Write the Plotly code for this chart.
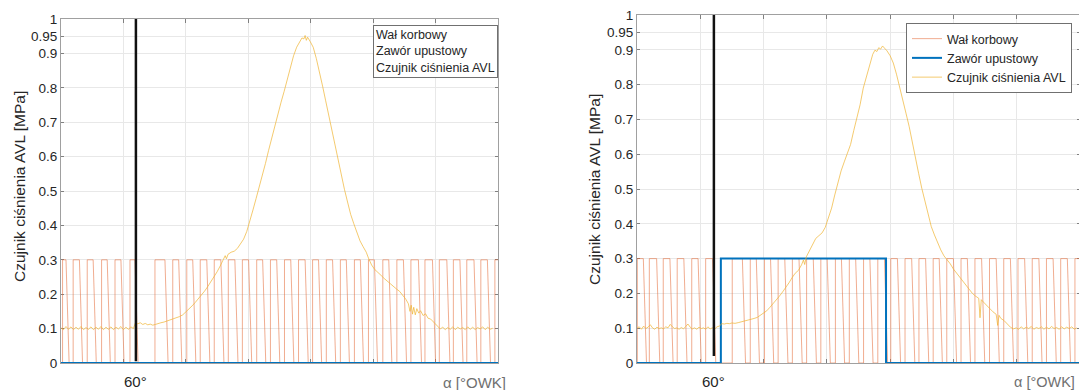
import plotly.graph_objects as go

# ---------------- data ----------------
# crank-shaft pulse train (start / end of each 0.3 MPa-level pulse), x in plot units
crank_level = 0.3
left_pulse_start = [0.5, 3.9, 8.4, 13.0, 17.3, 22.1, 30.1, 35.8, 40.3, 44.6, 49.1, 53.6, 58.1, 62.7, 67.1, 71.6,
                    76.1, 80.6, 85.0, 89.5, 94.0, 98.5, 103.1, 107.6, 112.1, 116.6, 121.2, 125.7, 130.0, 134.5, 139.0]
left_pulse_end = [1.6, 5.9, 10.3, 14.8, 19.2, 23.7, 33.3, 37.7, 42.2, 46.7, 51.2, 55.7, 60.1, 64.6, 69.1, 73.6,
                  78.2, 82.5, 87.0, 91.4, 95.9, 100.4, 105.0, 109.7, 114.5, 119.0, 123.6, 127.8, 132.3, 136.6, 140.0]
right_pulse_start = [0.1, 3.9, 8.3, 12.7, 17.3, 21.7, 30.1, 35.8, 40.3, 44.6, 49.1, 53.6, 58.1, 62.7, 67.1, 71.6,
                     76.1, 80.2, 84.7, 89.1, 93.6, 97.9, 102.4, 106.8, 111.4, 115.9, 120.4, 124.9, 129.4, 133.9, 138.4]
right_pulse_end = [2.0, 6.2, 10.4, 14.8, 19.3, 23.9, 33.3, 37.7, 42.2, 46.7, 51.2, 55.7, 60.1, 64.6, 69.1, 73.6,
                   78.2, 82.3, 86.8, 91.2, 95.5, 100.0, 104.4, 108.9, 113.5, 118.0, 122.5, 127.0, 131.5, 136.0, 140.0]

# relief valve (Zawór upustowy)
left_valve_x = [0, 140]
left_valve_y = [0, 0]
right_valve_x = [0, 26.5, 26.5, 78.7, 78.7, 140]
right_valve_y = [0, 0, 0.3, 0.3, 0, 0]

# 60° marker
left_marker_x = [24.0, 24.0]
left_marker_y = [0.005, 1.0]
right_marker_x = [24.3, 24.3]
right_marker_y = [0.02, 1.0]

# AVL pressure sensor (MPa)
left_p_x = [0.0, 0.8, 1.6, 2.4, 3.2, 4.0, 4.8, 5.6, 6.4, 7.2, 8.0, 8.8, 9.6, 10.4, 11.2, 12.0, 12.8, 13.6, 14.4,
            15.2, 16.0, 16.8, 17.6, 18.4, 19.2, 20.0, 20.8, 21.6, 22.4, 23.2, 23.8, 24.6, 25.4, 26.2, 27.0, 27.8,
            28.6, 29.4, 30.2, 31.0, 32.0, 33.0, 34.0, 35.0, 36.0, 37.0, 38.0, 39.0, 40.0, 41.0, 42.0, 43.0, 44.0,
            45.0, 46.0, 47.0, 48.0, 49.0, 50.0, 51.0, 52.0, 52.6, 53.0, 53.5, 54.5, 55.5, 56.5, 57.5, 58.5, 59.5,
            60.5, 61.5, 62.5, 63.5, 64.5, 65.5, 66.5, 67.5, 68.5, 69.5, 70.5, 71.5, 72.5, 73.5, 74.5, 75.5, 76.5,
            77.2, 77.8, 78.2, 78.6, 79.0, 79.8, 80.8, 81.8, 82.8, 83.8, 84.8, 85.8, 86.8, 87.8, 88.8, 89.8, 90.8,
            91.8, 92.8, 93.8, 94.8, 95.8, 96.8, 97.8, 98.5, 99.5, 100.5, 101.5, 102.5, 103.5, 104.5, 105.5, 106.5,
            107.5, 108.5, 109.5, 110.5, 111.3, 111.8, 112.2, 112.6, 113.0, 113.5, 114.0, 114.6, 115.2, 116.0,
            116.8, 117.6, 118.4, 119.2, 120.0, 120.8, 121.5, 122.3, 123.1, 123.9, 124.7, 125.5, 126.3, 127.1,
            127.9, 128.7, 129.5, 130.3, 131.1, 131.9, 132.7, 133.5, 134.3, 135.1, 135.9, 136.7, 137.5, 138.3,
            139.1, 140.0]
left_p_y = [0.102, 0.097, 0.106, 0.098, 0.105, 0.097, 0.104, 0.098, 0.106, 0.097, 0.103, 0.098, 0.105, 0.097,
            0.104, 0.098, 0.106, 0.097, 0.104, 0.098, 0.105, 0.097, 0.104, 0.099, 0.106, 0.097, 0.104, 0.098,
            0.105, 0.100, 0.116, 0.114, 0.117, 0.112, 0.115, 0.111, 0.113, 0.110, 0.112, 0.115, 0.117, 0.119,
            0.122, 0.125, 0.128, 0.131, 0.135, 0.140, 0.148, 0.157, 0.166, 0.176, 0.186, 0.197, 0.209, 0.222,
            0.236, 0.249, 0.265, 0.282, 0.300, 0.312, 0.303, 0.316, 0.322, 0.325, 0.333, 0.345, 0.360, 0.382,
            0.410, 0.445, 0.478, 0.510, 0.545, 0.580, 0.618, 0.655, 0.690, 0.722, 0.758, 0.790, 0.826, 0.860,
            0.893, 0.918, 0.935, 0.945, 0.942, 0.952, 0.938, 0.947, 0.935, 0.918, 0.885, 0.848, 0.805, 0.762,
            0.718, 0.675, 0.628, 0.585, 0.543, 0.505, 0.468, 0.432, 0.405, 0.378, 0.355, 0.338, 0.322, 0.305,
            0.285, 0.272, 0.262, 0.255, 0.246, 0.238, 0.229, 0.221, 0.215, 0.208, 0.198, 0.185, 0.172, 0.150,
            0.168, 0.142, 0.162, 0.140, 0.158, 0.145, 0.152, 0.138, 0.143, 0.130, 0.128, 0.120, 0.112, 0.104,
            0.099, 0.104, 0.097, 0.103, 0.098, 0.105, 0.097, 0.104, 0.099, 0.103, 0.097, 0.105, 0.098, 0.104,
            0.097, 0.103, 0.099, 0.105, 0.097, 0.104, 0.098, 0.101]

right_p_x = [0.0, 0.7, 1.4, 2.1, 2.8, 3.5, 4.2, 4.9, 5.6, 6.3, 7.0, 7.7, 8.4, 9.1, 9.8, 10.5, 11.2, 11.9, 12.6,
             13.3, 14.0, 14.7, 15.4, 16.1, 16.8, 17.5, 18.2, 18.9, 19.6, 20.3, 21.0, 21.7, 22.4, 23.1, 23.8, 24.6,
             25.3, 26.0, 26.8, 27.6, 28.4, 29.2, 30.0, 31.0, 32.0, 33.0, 34.0, 35.0, 36.0, 37.0, 38.0, 39.0, 40.0,
             41.0, 42.0, 43.0, 44.0, 45.0, 46.0, 47.0, 48.0, 49.0, 50.0, 51.0, 52.0, 52.6, 53.0, 53.5, 54.5, 55.5,
             56.5, 57.5, 58.5, 59.5, 60.5, 61.5, 62.5, 63.5, 64.5, 65.5, 66.5, 67.5, 68.5, 69.5, 70.5, 71.5, 72.5,
             73.5, 74.5, 75.2, 75.8, 76.4, 77.0, 77.6, 78.2, 79.0, 80.0, 81.0, 82.0, 83.0, 84.0, 85.0, 86.0, 87.0,
             88.0, 89.0, 90.0, 91.0, 92.0, 93.0, 94.0, 95.0, 96.0, 97.0, 98.0, 99.0, 100.0, 101.0, 102.0, 103.0,
             104.0, 105.0, 106.0, 107.0, 108.0, 108.4, 108.8, 109.5, 110.5, 111.5, 112.5, 113.5, 114.0, 114.4,
             115.0, 116.0, 117.0, 118.0, 119.0, 119.8, 120.6, 121.4, 122.2, 123.0, 123.8, 124.6, 125.4, 126.2,
             127.0, 127.8, 128.6, 129.4, 130.2, 131.0, 131.8, 132.6, 133.4, 134.2, 135.0, 135.8, 136.6, 137.4,
             138.2, 139.0, 140.0]
right_p_y = [0.100, 0.104, 0.097, 0.106, 0.099, 0.103, 0.110, 0.101, 0.097, 0.103, 0.099, 0.101, 0.098, 0.104,
             0.101, 0.111, 0.104, 0.099, 0.101, 0.097, 0.102, 0.098, 0.105, 0.112, 0.103, 0.098, 0.101, 0.097,
             0.103, 0.099, 0.101, 0.097, 0.104, 0.098, 0.101, 0.098, 0.104, 0.106, 0.113, 0.112, 0.114, 0.113,
             0.115, 0.114, 0.116, 0.118, 0.120, 0.122, 0.125, 0.128, 0.131, 0.137, 0.144, 0.150, 0.160, 0.170,
             0.181, 0.192, 0.204, 0.216, 0.230, 0.245, 0.258, 0.266, 0.282, 0.296, 0.283, 0.305, 0.323, 0.342,
             0.358, 0.366, 0.374, 0.390, 0.415, 0.445, 0.483, 0.520, 0.552, 0.578, 0.603, 0.628, 0.668, 0.706,
             0.742, 0.790, 0.822, 0.855, 0.887, 0.899, 0.895, 0.906, 0.902, 0.911, 0.905, 0.897, 0.883, 0.862,
             0.830, 0.790, 0.752, 0.718, 0.680, 0.632, 0.588, 0.545, 0.502, 0.465, 0.428, 0.392, 0.368, 0.345,
             0.325, 0.308, 0.298, 0.285, 0.270, 0.258, 0.245, 0.235, 0.222, 0.212, 0.200, 0.192, 0.186, 0.130,
             0.182, 0.175, 0.165, 0.155, 0.147, 0.140, 0.108, 0.137, 0.128, 0.122, 0.112, 0.103, 0.098, 0.101,
             0.097, 0.104, 0.098, 0.103, 0.099, 0.105, 0.097, 0.102, 0.099, 0.104, 0.097, 0.103, 0.098, 0.105,
             0.099, 0.102, 0.097, 0.104, 0.098, 0.103, 0.099, 0.104, 0.097, 0.101]

y_tick_vals = [0, 0.1, 0.2, 0.3, 0.4, 0.5, 0.6, 0.7, 0.8, 0.9, 0.95, 1]
y_tick_text = ["0", "0.1", "0.2", "0.3", "0.4", "0.5", "0.6", "0.7", "0.8", "0.9", "0.95", "1"]
x_tick_vals = [0, 20, 40, 60, 80, 100, 120, 140]

series_names = ["Wał korbowy", "Zawór upustowy", "Czujnik ciśnienia AVL"]
y_title = "Czujnik ciśnienia AVL [MPa]"
x_title = "α [°OWK]"
marker_label = "60°"

# ---------------- styling ----------------
C_CRANK = "rgba(228,105,55,0.55)"
C_VALVE = "#0072BD"
C_PRESS = "rgba(240,180,50,0.7)"
C_MARK = "#111111"
FONT = "Liberation Sans, Arial, sans-serif"
FALL = 1.0  # visual width of the falling edge

# page body has an 8 px margin: lay out in screen pixels, then shift
OFF = 8
W, H = 1087 - OFF, 390 - OFF


def px(v):
    return (v - OFF) / W


def py(v):
    return 1 - (v - OFF) / H


def crank_xy(starts, ends):
    xs, ys = [0.0], [0.0]
    for s, e in zip(starts, ends):
        xs += [s, s, e, min(e + FALL, 140.0)]
        ys += [0.0, crank_level, crank_level, 0.0 if e + FALL <= 140 else crank_level]
    return xs, ys


fig = go.Figure()

panels = [
    ("x", "y", left_pulse_start, left_pulse_end, left_valve_x, left_valve_y, left_p_x, left_p_y,
     left_marker_x, left_marker_y, False),
    ("x2", "y2", right_pulse_start, right_pulse_end, right_valve_x, right_valve_y, right_p_x, right_p_y,
     right_marker_x, right_marker_y, True),
]

for xa, ya, ps, pe, vx, vy, pxs, pys, mx, my, show in panels:
    cx, cy = crank_xy(ps, pe)
    fig.add_trace(go.Scatter(x=cx, y=cy, mode="lines", name=series_names[0], xaxis=xa, yaxis=ya,
                             line=dict(color=C_CRANK, width=1), showlegend=show, hoverinfo="skip"))
    fig.add_trace(go.Scatter(x=vx, y=vy, mode="lines", name=series_names[1], xaxis=xa, yaxis=ya,
                             line=dict(color=C_VALVE, width=2), showlegend=show))
    fig.add_trace(go.Scatter(x=pxs, y=pys, mode="lines", name=series_names[2], xaxis=xa, yaxis=ya,
                             line=dict(color=C_PRESS, width=1), showlegend=show))
    fig.add_trace(go.Scatter(x=mx, y=my, mode="lines", xaxis=xa, yaxis=ya,
                             line=dict(color=C_MARK, width=2.5), showlegend=False))

axis_common = dict(showline=True, linecolor="#a0a0a0", linewidth=1, mirror="ticks", ticks="inside",
                   ticklen=4, tickcolor="#808080", showgrid=True, gridcolor="#e8e8e8", gridwidth=1,
                   zeroline=False, layer="below traces", automargin=False)

xaxis = dict(axis_common, range=[0, 140], tickvals=x_tick_vals, showticklabels=False)
yaxis = dict(axis_common, range=[0, 1], tickvals=y_tick_vals, ticktext=y_tick_text, ticklen=3,
             ticklabeloverflow="allow",
             tickfont=dict(family=FONT, size=13.5, color="#262626"))

fig.update_layout(
    width=W, height=H,
    margin=dict(l=0, r=0, t=0, b=0, pad=0, autoexpand=False),
    paper_bgcolor="white", plot_bgcolor="white",
    font=dict(family=FONT, color="#262626"),
    xaxis=dict(xaxis, domain=[px(61), px(498)], anchor="y"),
    yaxis=dict(yaxis, domain=[py(363), py(19)], anchor="x"),
    xaxis2=dict(xaxis, domain=[px(637), px(1080)], anchor="y2"),
    yaxis2=dict(yaxis, domain=[py(363), py(15)], anchor="x2"),
    legend=dict(x=px(906), y=py(23), xanchor="left", yanchor="top", bgcolor="white",
                bordercolor="#707070", borderwidth=1, font=dict(family=FONT, size=12.5, color="#262626"),
                tracegroupgap=0, itemwidth=30),
    showlegend=True,
)

txt = dict(family=FONT, size=15, color="#262626")
annotations = [
    # y-axis titles
    dict(x=px(19), y=py(187), xref="paper", yref="paper", text=y_title, textangle=-90, showarrow=False,
         xanchor="center", yanchor="middle", font=dict(txt, size=15.5)),
    dict(x=px(594), y=py(190), xref="paper", yref="paper", text=y_title, textangle=-90, showarrow=False,
         xanchor="center", yanchor="middle", font=dict(txt, size=15.5)),
    # 60° labels
    dict(x=left_marker_x[0], y=py(381), xref="x", yref="paper", text=marker_label, showarrow=False,
         xanchor="center", yanchor="middle", font=txt),
    dict(x=right_marker_x[0], y=py(381), xref="x2", yref="paper", text=marker_label, showarrow=False,
         xanchor="center", yanchor="middle", font=txt),
    # x-axis titles
    dict(x=px(474), y=py(382), xref="paper", yref="paper", text=x_title, showarrow=False,
         xanchor="center", yanchor="middle", font=dict(txt, color="#707070")),
    dict(x=px(1077), y=py(382), xref="paper", yref="paper", text=x_title, showarrow=False,
         xanchor="right", yanchor="middle", font=dict(txt, size=14.5, color="#707070")),
    # left legend box (line samples cropped in the original)
    dict(x=px(498), y=py(25), xref="paper", yref="paper", xanchor="right", yanchor="top",
         text="<br>".join(series_names), align="left", showarrow=False, bgcolor="white",
         bordercolor="#707070", borderwidth=1, borderpad=2,
         font=dict(family=FONT, size=12.5, color="#262626")),
]
fig.update_layout(annotations=annotations)

fig.write_html("out.html")
